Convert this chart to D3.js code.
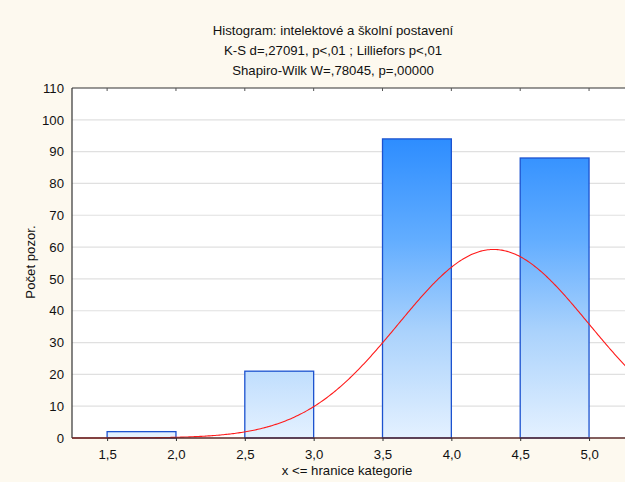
<!DOCTYPE html>
<html>
<head>
<meta charset="utf-8">
<script src="https://cdn.jsdelivr.net/npm/d3@7/dist/d3.min.js"></script>
<style>
  html, body { margin: 0; padding: 0; background: #fdf9ef; }
  svg { display: block; }
  text { font-family: "Liberation Sans", Arial, sans-serif; fill: #111; }
</style>
</head>
<body>
<svg id="chart" width="625" height="482"></svg>
<script>
// Histogram bins (upper bound "x <= hranice") and counts
const binLower = [1.5, 2.5, 3.5, 4.5];
const binUpper = [2.0, 3.0, 4.0, 5.0];
const counts = [2, 21, 94, 88];
const xTicks = [1.5, 2.0, 2.5, 3.0, 3.5, 4.0, 4.5, 5.0];
const yTicks = [0, 10, 20, 30, 40, 50, 60, 70, 80, 90, 100, 110];
const titleLines = [
  "Histogram: intelektové a školní postavení",
  "K-S d=,27091, p<,01 ; Lilliefors p<,01",
  "Shapiro-Wilk W=,78045, p=,00000"
];

const svg = d3.select("#chart");
const W = 625, H = 482;
const plot = { left: 72, top: 88, right: 640, bottom: 438 };
const FS = 13.2;

const x = d3.scaleLinear().domain([1.245, 5.37]).range([plot.left, plot.right]);
const y = d3.scaleLinear().domain([0, 110]).range([plot.bottom, plot.top]);
const fmt = d => d3.format(".1f")(d).replace(".", ",");

// Background
svg.append("rect").attr("width", W).attr("height", H).attr("fill", "#fdf9ef");
svg.append("rect")
  .attr("x", plot.left).attr("y", plot.top)
  .attr("width", plot.right - plot.left).attr("height", plot.bottom - plot.top)
  .attr("fill", "#ffffff");

// Vertical blue gradient in plot coordinates
const defs = svg.append("defs");
const grad = defs.append("linearGradient")
  .attr("id", "barGrad").attr("gradientUnits", "userSpaceOnUse")
  .attr("x1", 0).attr("x2", 0).attr("y1", y(0)).attr("y2", y(96));
grad.append("stop").attr("offset", "0%").attr("stop-color", "#e4f1ff");
grad.append("stop").attr("offset", "35%").attr("stop-color", "#aad2fc");
grad.append("stop").attr("offset", "65%").attr("stop-color", "#62adff");
grad.append("stop").attr("offset", "100%").attr("stop-color", "#2a8bff");

// Title
svg.append("g").selectAll("text").data(titleLines).join("text")
  .attr("x", 333).attr("y", (d, i) => 35 + i * 20)
  .attr("text-anchor", "middle").attr("font-size", FS)
  .text(d => d);

// Horizontal grid
svg.append("g").selectAll("line").data(yTicks.filter(t => t > 0 && t < 110)).join("line")
  .attr("x1", plot.left).attr("x2", plot.right)
  .attr("y1", d => y(d)).attr("y2", d => y(d))
  .attr("stroke", "#e0e0e0").attr("stroke-width", 1.2);

// Bars
const bins = counts.map((c, i) => ({ lo: binLower[i], hi: binUpper[i], n: c }));
svg.append("g").selectAll("rect").data(bins).join("rect")
  .attr("x", d => x(d.lo)).attr("y", d => y(d.n))
  .attr("width", d => x(d.hi) - x(d.lo))
  .attr("height", d => y(0) - y(d.n))
  .attr("fill", "url(#barGrad)")
  .attr("stroke", "#1c52cf").attr("stroke-width", 1.3);

// Fitted normal curve (mean and SD from the binned values, scaled to bin width)
const centers = binUpper;
const N = d3.sum(counts);
const mean = d3.sum(counts.map((c, i) => c * centers[i])) / N;
const sd = Math.sqrt(d3.sum(counts.map((c, i) => c * (centers[i] - mean) ** 2)) / N);
const binW = 0.5;
const pts = d3.range(x.domain()[0], x.domain()[1], 0.01).map(v =>
  [v, N * binW / (sd * Math.sqrt(2 * Math.PI)) * Math.exp(-0.5 * ((v - mean) / sd) ** 2)]);
svg.append("path")
  .datum(pts)
  .attr("d", d3.line().x(d => x(d[0])).y(d => y(d[1])))
  .attr("fill", "none").attr("stroke", "#ff1a1a").attr("stroke-width", 1.1);

// Plot frame: left, top, bottom
const frame = svg.append("g").attr("stroke", "#333").attr("stroke-width", 1.2);
frame.append("line").attr("x1", plot.left).attr("x2", plot.left).attr("y1", plot.top).attr("y2", plot.bottom);
frame.append("line").attr("x1", plot.left).attr("x2", plot.right).attr("y1", plot.top).attr("y2", plot.top);
frame.append("line").attr("x1", plot.left).attr("x2", plot.right).attr("y1", plot.bottom).attr("y2", plot.bottom)
  .attr("stroke", "#5a2a2a").attr("stroke-width", 1.6);

// Top tick marks
svg.append("g").selectAll("line").data(xTicks).join("line")
  .attr("x1", d => x(d)).attr("x2", d => x(d))
  .attr("y1", plot.top).attr("y2", plot.top + 3)
  .attr("stroke", "#555");

// X axis
const xAxis = svg.append("g").attr("transform", `translate(0,${plot.bottom})`)
  .call(d3.axisBottom(x).tickValues(xTicks).tickFormat(fmt).tickSize(3).tickSizeOuter(0));
xAxis.select(".domain").remove();
xAxis.selectAll("line").attr("stroke", "#333");
xAxis.selectAll("text").attr("font-size", FS).attr("dy", "1.1em")
  .style("font-family", "Liberation Sans, Arial, sans-serif").attr("fill", "#111");

// Y axis
const yAxis = svg.append("g").attr("transform", `translate(${plot.left},0)`)
  .call(d3.axisLeft(y).tickValues(yTicks).tickSize(0).tickPadding(8));
yAxis.select(".domain").remove();
yAxis.selectAll("text").attr("font-size", FS)
  .style("font-family", "Liberation Sans, Arial, sans-serif").attr("fill", "#111");

// Axis titles
svg.append("text")
  .attr("x", 347).attr("y", 475).attr("text-anchor", "middle").attr("font-size", FS)
  .text("x <= hranice kategorie");
svg.append("text")
  .attr("transform", "translate(35,262) rotate(-90)")
  .attr("text-anchor", "middle").attr("font-size", FS)
  .text("Počet pozor.");
</script>
</body>
</html>
